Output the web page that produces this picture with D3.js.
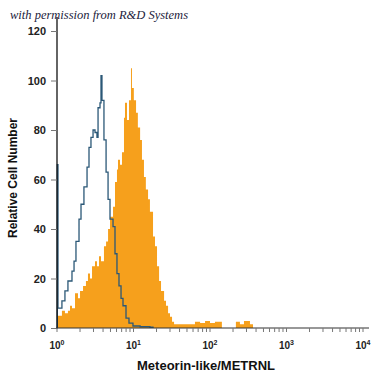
<!DOCTYPE html>
<html>
<head>
<meta charset="utf-8">
<script src="https://cdn.jsdelivr.net/npm/d3@7"></script>
<style>
  body { margin: 0; background: #fff; }
  svg { display: block; }
</style>
</head>
<body>
<div id="chart"></div>
<script>
// histogram (intensity, relative count)
var stainedX = [1.00, 1.09, 1.16, 1.27, 1.39, 1.48, 1.57, 1.72, 1.88, 2.00, 2.19, 2.39, 2.54, 2.70, 2.87, 3.14, 3.33, 3.54, 3.76, 4.11,
  4.38, 4.65, 4.93, 5.40, 5.73, 6.08, 6.27, 6.66, 7.07, 7.51, 7.74, 8.22, 8.73, 9.27, 9.55, 10.1, 10.8, 11.4, 12.2, 12.9,
  13.7, 14.5, 15.5, 16.4, 18.0, 19.1, 20.3, 21.6, 22.9, 25.1, 26.6, 28.3, 30.0, 31.9, 33.9, 63.6, 74.2, 86.2, 100, 116,
  143, 218, 246, 278, 333, 365];
var stainedY = [5, 5, 7, 6, 7, 9, 8, 14, 12, 15, 17, 19, 22, 20, 25, 27, 25, 29, 27, 33,
  35, 40, 45, 49, 59, 64, 68, 66, 71, 85, 91, 84, 92, 105, 97, 92, 87, 81, 76, 68,
  61, 56, 52, 47, 37, 33, 25, 19, 15, 11, 9, 6, 4.5, 2.5, 1.5, 2.5, 2, 2.8, 2, 2.5,
  0, 2.5, 1.5, 2.8, 1.5, 0];

var isotypeX = [1.00, 1.01, 1.03, 1.09, 1.16, 1.27, 1.39, 1.57, 1.67, 1.77, 1.94, 2.06, 2.25, 2.47, 2.62, 2.78, 2.96, 3.14, 3.33, 3.44,
  3.65, 3.76, 3.87, 4.11, 4.38, 4.65, 4.93, 5.40, 5.73, 6.08, 6.46, 6.87, 7.29, 7.98, 8.73, 9.84, 12.2, 16.4, 18.0];
var isotypeY = [0, 66, 8, 8, 11, 15, 19, 23, 27, 35, 44, 50, 57, 65, 73, 77, 80, 79, 77, 89,
  91, 102, 92, 76, 63, 52, 44, 41, 30, 22, 17, 12, 9, 4, 2, 0.8, 0.5, 0.3, 0];

var yTicks = [0, 20, 40, 60, 80, 100, 120];
var xDecades = [1, 10, 100, 1000, 10000];
var xMinor = [2, 3, 4, 5, 6, 7, 8, 9, 20, 30, 40, 50, 60, 70, 80, 90, 200, 300, 400, 500, 600, 700, 800, 900,
  2000, 3000, 4000, 5000, 6000, 7000, 8000, 9000];

var width = 375, height = 375;
var svg = d3.select("#chart").append("svg")
  .attr("width", width)
  .attr("height", height);

var x = d3.scaleLog().domain([1, 10000]).range([57, 363]);
var y = d3.scaleLinear().domain([0, 120]).range([328, 31]);

var stained = stainedX.map(function(v, i) { return { x: v, y: stainedY[i] }; });
var isotype = isotypeX.map(function(v, i) { return { x: v, y: isotypeY[i] }; });

// orange filled histogram
svg.append("path")
  .datum(stained)
  .attr("fill", "#f6a01c")
  .attr("d", d3.area()
    .curve(d3.curveStepAfter)
    .x(function(d) { return x(d.x); })
    .y0(y(0))
    .y1(function(d) { return y(d.y); }));

// control outline
svg.append("path")
  .datum(isotype)
  .attr("fill", "none")
  .attr("stroke", "#2b5877")
  .attr("stroke-width", 1.3)
  .attr("d", d3.line()
    .curve(d3.curveStepAfter)
    .x(function(d) { return x(d.x); })
    .y(function(d) { return y(d.y); }));

// y axis
svg.append("line")
  .attr("x1", x(1)).attr("x2", x(1))
  .attr("y1", y(0)).attr("y2", 17)
  .attr("stroke", "#111").attr("stroke-width", 1.3);

var yAxis = svg.append("g")
  .attr("transform", "translate(" + x(1) + ",0)")
  .call(d3.axisLeft(y).tickValues(yTicks).tickSize(6).tickPadding(5));
yAxis.select(".domain").remove();
yAxis.selectAll(".tick line").attr("stroke", "#777");
yAxis.selectAll("text")
  .attr("font-family", "Liberation Sans, Arial, sans-serif")
  .attr("font-weight", "bold")
  .attr("font-size", 11)
  .attr("fill", "#222");

// x axis
svg.append("line")
  .attr("x1", x(1) - 1).attr("x2", 369)
  .attr("y1", y(0)).attr("y2", y(0))
  .attr("stroke", "#333").attr("stroke-width", 1.2);

svg.append("g").selectAll("line")
  .data(xDecades.concat(xMinor))
  .enter().append("line")
  .attr("x1", function(d) { return x(d); })
  .attr("x2", function(d) { return x(d); })
  .attr("y1", y(0))
  .attr("y2", y(0) + 4)
  .attr("stroke", "#777");

var xLab = svg.append("g").selectAll("text")
  .data(xDecades)
  .enter().append("text")
  .attr("x", function(d) { return x(d); })
  .attr("y", 349)
  .attr("text-anchor", "middle")
  .attr("font-family", "Liberation Sans, Arial, sans-serif")
  .attr("font-weight", "bold")
  .attr("font-size", 10)
  .attr("fill", "#222");
xLab.append("tspan").text("10");
xLab.append("tspan")
  .attr("dy", -4)
  .attr("font-size", 7)
  .text(function(d) { return Math.round(Math.log10(d)); });

// axis titles
svg.append("text")
  .attr("x", 206)
  .attr("y", 370)
  .attr("text-anchor", "middle")
  .attr("font-family", "Liberation Sans Narrow, Liberation Sans, Arial, sans-serif")
  .attr("font-weight", "bold")
  .attr("font-size", 13)
  .attr("fill", "#111")
  .text("Meteorin-like/METRNL");

svg.append("text")
  .attr("transform", "translate(17,178)rotate(-90)")
  .attr("text-anchor", "middle")
  .attr("font-family", "Liberation Sans Narrow, Liberation Sans, Arial, sans-serif")
  .attr("font-weight", "bold")
  .attr("font-size", 12)
  .attr("fill", "#111")
  .text("Relative Cell Number");

// credit line
svg.append("text")
  .attr("x", 10)
  .attr("y", 19)
  .attr("font-family", "Liberation Serif, serif")
  .attr("font-style", "italic")
  .attr("font-size", 12.5)
  .attr("fill", "#1c1c3c")
  .text("with permission from R&D Systems");
</script>
</body>
</html>
